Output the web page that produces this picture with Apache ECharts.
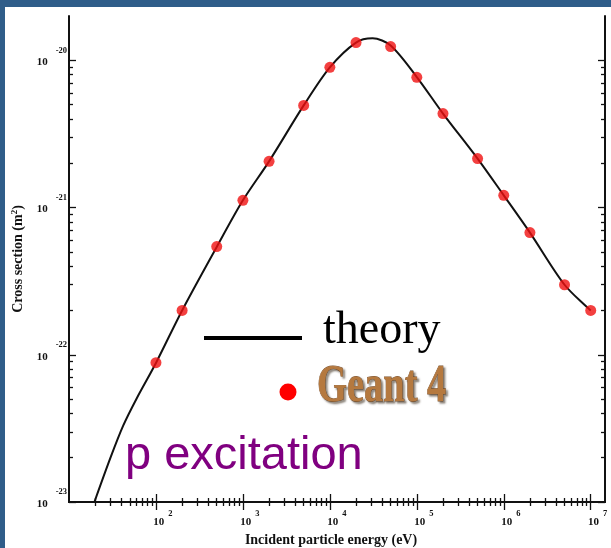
<!DOCTYPE html>
<html>
<head>
<meta charset="utf-8">
<script src="https://cdn.jsdelivr.net/npm/echarts@6/dist/echarts.min.js"></script>
<style>
  html, body { margin: 0; padding: 0; width: 611px; height: 548px; overflow: hidden; background: #2f5d89; }
  #c { position: absolute; left: 5px; top: 7px; width: 606px; height: 541px; background: #ffffff; }
</style>
</head>
<body>
<div id="c"></div>
<script>
// ---- data ----
const theoryE = [19.6, 30, 42, 60, 100, 200, 500, 1000, 2000, 5000, 1e4, 2e4, 3.1e4, 5e4, 1e5, 2e5, 5e5, 1e6, 2e6, 5e6, 1e7];
const theorySigma = [1e-23, 2.0e-23, 3.3e-23, 5.05e-23, 8.8e-23, 2.0e-22, 5.4e-22, 1.12e-21, 2.06e-21, 4.94e-21, 8.96e-21, 1.32e-20, 1.41e-20, 1.26e-20, 7.7e-21, 4.35e-21, 2.15e-21, 1.21e-21, 6.76e-22, 2.99e-22, 2.0e-22];
const g4E = [100, 200, 500, 1e3, 2e3, 5e3, 1e4, 2e4, 5e4, 1e5, 2e5, 5e5, 1e6, 2e6, 5e6, 1e7];
const g4Sigma = [8.83e-23, 2.0e-22, 5.43e-22, 1.12e-21, 2.06e-21, 4.94e-21, 8.96e-21, 1.32e-20, 1.24e-20, 7.66e-21, 4.35e-21, 2.15e-21, 1.21e-21, 6.76e-22, 2.99e-22, 2.0e-22];

const xMajorTicks = [1e2, 1e3, 1e4, 1e5, 1e6, 1e7];
const xTickExponents = ['2', '3', '4', '5', '6', '7'];
const yMajorTicks = [1e-23, 1e-22, 1e-21, 1e-20];
const yTickExponents = ['-23', '-22', '-21', '-20'];
const xDecades = [1e1, 1e2, 1e3, 1e4, 1e5, 1e6, 1e7];
const yDecades = [1e-23, 1e-22, 1e-21, 1e-20];
const minorMultipliers = [2, 3, 4, 5, 6, 7, 8, 9];

const xMin = 10, xMax = 1.46e7, yMin = 1e-23, yMax = 2e-20;

const xMinorTicks = [];
xDecades.forEach(d => minorMultipliers.forEach(m => { const v = d * m; if (v > xMin && v < xMax) xMinorTicks.push(v); }));
const yMinorTicks = [];
yDecades.forEach(d => minorMultipliers.forEach(m => { const v = d * m; if (v > yMin && v < yMax) yMinorTicks.push(v); }));

const SERIF = '"Liberation Serif", "Times New Roman", serif';

function expOf(v, list, exps) {
  let best = 0, bd = Infinity;
  list.forEach((t, i) => { const d = Math.abs(Math.log10(v) - Math.log10(t)); if (d < bd) { bd = d; best = i; } });
  return exps[best];
}

function xAxisCfg(pos, major) {
  return {
    type: 'log', logBase: 10, min: xMin, max: xMax, position: pos,
    axisLine: { show: major, lineStyle: { color: '#111', width: 2 } },
    axisTick: { show: true, inside: true, length: major ? 8 : 4, customValues: major ? xMajorTicks : xMinorTicks,
                lineStyle: { color: '#111', width: 1.3 } },
    axisLabel: (major && pos === 'bottom') ? {
      show: true, customValues: xMajorTicks, margin: 7,
      formatter: v => '{b|10}{s|' + expOf(v, xMajorTicks, xTickExponents) + '}',
      rich: {
        b: { fontFamily: SERIF, fontWeight: 'bold', fontSize: 11, color: '#111', padding: [0, 0, 0, 14] },
        s: { fontFamily: SERIF, fontWeight: 'bold', fontSize: 8.5, color: '#111', padding: [0, 0, 17, 4] }
      }
    } : { show: false },
    splitLine: { show: false }, minorTick: { show: false }, minorSplitLine: { show: false },
    name: (major && pos === 'bottom') ? 'Incident particle energy (eV)' : '',
    nameLocation: 'middle', nameGap: 31,
    nameTextStyle: { fontFamily: SERIF, fontWeight: 'bold', fontSize: 14, color: '#111', padding: [0, 12, 0, 0] }
  };
}

function yAxisCfg(pos, major) {
  return {
    type: 'log', logBase: 10, min: yMin, max: yMax, position: pos,
    axisLine: { show: major, lineStyle: { color: '#111', width: 2 } },
    axisTick: { show: true, inside: true, length: major ? 7 : 4, customValues: major ? yMajorTicks : yMinorTicks,
                lineStyle: { color: '#111', width: 1.3 } },
    axisLabel: (major && pos === 'left') ? {
      show: true, customValues: yMajorTicks, margin: 2,
      formatter: v => '{b|10}{s|' + expOf(v, yMajorTicks, yTickExponents) + '}',
      rich: {
        b: { fontFamily: SERIF, fontWeight: 'bold', fontSize: 11, color: '#111', padding: [4, 0, 0, 0] },
        s: { fontFamily: SERIF, fontWeight: 'bold', fontSize: 8.5, color: '#111', padding: [0, 0, 20, 8] }
      }
    } : { show: false },
    splitLine: { show: false }, minorTick: { show: false }, minorSplitLine: { show: false },
    name: (major && pos === 'left') ? '{a|Cross section (m}{s|2}{a|)}' : '',
    nameLocation: 'middle', nameGap: 40, nameRotate: 90,
    nameTextStyle: {
      rich: {
        a: { fontFamily: SERIF, fontWeight: 'bold', fontSize: 14, color: '#111' },
        s: { fontFamily: SERIF, fontWeight: 'bold', fontSize: 9, color: '#111', padding: [0, 0, 8, 0] }
      }
    }
  };
}

const chart = echarts.init(document.getElementById('c'), null, { renderer: 'canvas' });

const option = {
  backgroundColor: '#ffffff',
  animation: false,
  grid: { left: 64, top: 9, right: 6, bottom: 46, containLabel: false, outerBoundsMode: 'none' },
  xAxis: [xAxisCfg('bottom', true), xAxisCfg('bottom', false), xAxisCfg('top', true), xAxisCfg('top', false)],
  yAxis: [yAxisCfg('left', true), yAxisCfg('left', false), yAxisCfg('right', true), yAxisCfg('right', false)],
  series: [
    {
      name: 'theory', type: 'line', xAxisIndex: 0, yAxisIndex: 0,
      data: theoryE.map((e, i) => [e, theorySigma[i]]),
      showSymbol: false, smooth: 0.3,
      lineStyle: { color: '#111', width: 2 }, z: 2
    },
    {
      name: 'Geant 4', type: 'scatter', xAxisIndex: 0, yAxisIndex: 0,
      data: g4E.map((e, i) => [e, g4Sigma[i]]),
      symbol: 'circle', symbolSize: 11,
      itemStyle: { color: '#f01010' }, z: 3
    }
  ],
  graphic: [
    { type: 'line', shape: { x1: 199, y1: 331, x2: 297, y2: 331 }, style: { stroke: '#000', lineWidth: 4 } },
    { type: 'text', x: 318, y: 324, style: { text: 'theory', fontFamily: SERIF, fontSize: 46, fill: '#000', verticalAlign: 'middle' } },
    { type: 'circle', shape: { cx: 283, cy: 385, r: 8.5 }, style: { fill: '#ff0000' } },
    { type: 'text', x: 312, y: 381, scaleX: 0.74,
      style: { text: 'Geant 4', fontFamily: SERIF, fontWeight: 'bold', fontSize: 52,
               fill: '#b5793f', stroke: '#7a5230', lineWidth: 0.8,
               textShadowColor: 'rgba(60,45,30,0.55)', textShadowBlur: 2, textShadowOffsetX: 2, textShadowOffsetY: 2,
               verticalAlign: 'middle' } },
    { type: 'text', x: 120, y: 449, style: { text: 'p excitation', fontFamily: '"Liberation Sans", Arial, sans-serif', fontSize: 47, fill: '#800080', verticalAlign: 'middle' } }
  ]
};
chart.setOption(option);
</script>
</body>
</html>
